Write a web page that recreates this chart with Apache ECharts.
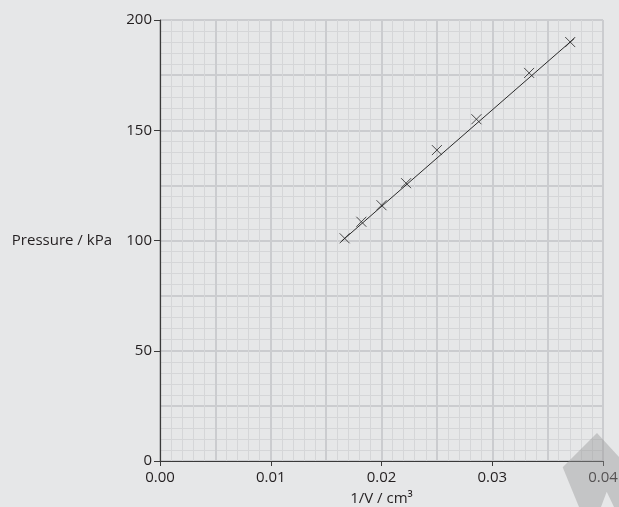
<!DOCTYPE html>
<html>
<head>
<meta charset="utf-8">
<script src="https://cdn.jsdelivr.net/npm/echarts@6/dist/echarts.min.js"></script>
<style>
html,body{margin:0;padding:0;background:#e6e7e8;}
#chart{width:619px;height:507px;}
</style>
</head>
<body>
<div id="chart"></div>
<script>
// Data
const invV = [0.01667, 0.01818, 0.02, 0.02222, 0.025, 0.02857, 0.03333, 0.03704];
const pressure = [101, 108.5, 116, 126, 141, 155, 176, 190];
// best-fit line end points (x, y)
const fitX = [0.0164, 0.0374];
const fitY = [99.7, 191.6];
const xTickLabels = ['0.00', '0.01', '0.02', '0.03', '0.04'];
const yTickLabels = ['0', '50', '100', '150', '200'];

const FONT = 'Open Sans';
const TXT = '#231f20';
const FS = 15;

const chart = echarts.init(document.getElementById('chart'));
const pts = invV.map((x, i) => [x, pressure[i]]);
const fit = fitX.map((x, i) => [x, fitY[i]]);

const majorGrid = {show: true, lineStyle: {color: '#cbcccf', width: 2}};
const minorGrid = {show: true, lineStyle: {color: '#d5d6d8', width: 1}};

chart.setOption({
  backgroundColor: '#e6e7e8',
  animation: false,
  grid: {left: 160, right: 16, top: 20, bottom: 46, containLabel: false, outerBoundsMode: 'none'},
  xAxis: [
    {
      type: 'value', min: 0, max: 0.04, interval: 0.01,
      axisLine: {show: true, onZero: false, lineStyle: {color: '#3a3a3a', width: 1.2}},
      axisTick: {show: true, length: 5, lineStyle: {color: '#3a3a3a'}},
      axisLabel: {
        formatter: (v) => xTickLabels[Math.round(v / 0.01)] || '',
        color: TXT, fontSize: FS, fontFamily: FONT, margin: 9
      },
      splitLine: {show: false},
      name: '1/V / cm³', nameLocation: 'middle', nameGap: 30,
      nameTextStyle: {color: TXT, fontSize: FS, fontFamily: FONT},
      z: 5
    },
    {
      type: 'value', min: 0, max: 0.04, interval: 0.005, position: 'top',
      axisLine: {show: false}, axisTick: {show: false}, axisLabel: {show: false},
      splitLine: majorGrid,
      minorTick: {show: false, splitNumber: 5},
      minorSplitLine: minorGrid
    }
  ],
  yAxis: [
    {
      type: 'value', min: 0, max: 200, interval: 50,
      axisLine: {show: true, onZero: false, lineStyle: {color: '#3a3a3a', width: 1.2}},
      axisTick: {show: true, length: 6, lineStyle: {color: '#3a3a3a'}},
      axisLabel: {
        formatter: (v) => yTickLabels[Math.round(v / 50)] || '',
        color: TXT, fontSize: FS, fontFamily: FONT, margin: 8
      },
      splitLine: {show: false},
      name: 'Pressure / kPa', nameLocation: 'middle', nameRotate: 0, nameGap: 48,
      nameTextStyle: {color: TXT, fontSize: FS, fontFamily: FONT, align: 'right'},
      z: 5
    },
    {
      type: 'value', min: 0, max: 200, interval: 25, position: 'right',
      axisLine: {show: false}, axisTick: {show: false}, axisLabel: {show: false},
      splitLine: majorGrid,
      minorTick: {show: false, splitNumber: 5},
      minorSplitLine: minorGrid
    }
  ],
  series: [
    {
      type: 'line', data: fit, xAxisIndex: 0, yAxisIndex: 0,
      symbol: 'none', lineStyle: {color: '#2a2a2a', width: 1}, z: 3
    },
    {
      type: 'scatter', data: pts, xAxisIndex: 0, yAxisIndex: 0,
      symbol: 'path://M0,0L10,10M10,0L0,10', symbolSize: 10,
      itemStyle: {color: 'rgba(0,0,0,0)', borderColor: '#222', borderWidth: 1},
      z: 4
    }
  ],
  graphic: [{
    type: 'polygon', z: 100, silent: true,
    shape: {points: [[597,433],[640,480],[640,507],[614,507],[606.7,491.7],[601,507],[579,507],[562.7,467.3]]},
    style: {fill: 'rgba(150,150,150,0.42)'}
  }]
});
</script>
</body>
</html>
